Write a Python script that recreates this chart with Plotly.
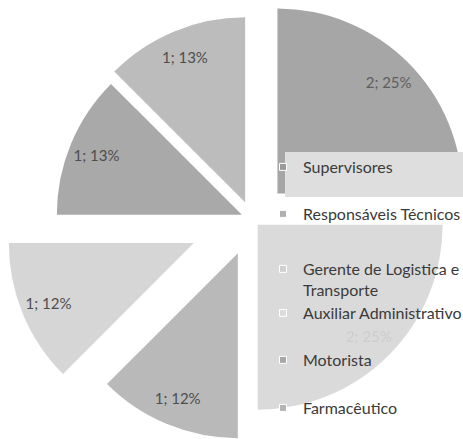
import math
import plotly.graph_objects as go

# ---- data ----
categories = [
    "Supervisores",
    "Responsáveis Técnicos",
    "Gerente de Logistica e Transporte",
    "Auxiliar Administrativo",
    "Motorista",
    "Farmacêutico",
]
counts = [2, 2, 1, 1, 1, 1]
percent_labels = ["25%", "25%", "12%", "12%", "13%", "13%"]

# ---- styling ----
W, H = 463, 439
R = 185                      # pie radius (px)
CX, CY = 252, 219            # pie centre (px from top-left)
explode_px = [36, 8, 37, 63, 11, 18]
fills = ["#a6a6a6", "#dadada", "#b9b9b9", "#d6d6d6", "#a9a9a9", "#bcbcbc"]
swatches = ["#9a9a9a", "#b0b0b0", "#d0d0d0", "#dcdcdc", "#a8a8a8", "#b4b4b4"]
label_colors = ["#5e5e5e", "#cdcdcd", "#4e4e4e", "#4e4e4e", "#4e4e4e", "#4e4e4e"]
legend_names = [
    "Supervisores",
    "Responsáveis Técnicos",
    "Gerente de Logistica e<br>Transporte",
    "Auxiliar Administrativo",
    "Motorista",
    "Farmacêutico",
]
legend_rows = [167, 214, 252, 313, 360, 408]   # row centre (px); row 3 is top-anchored
FONT = "Lato"
CLEAR = "rgba(0,0,0,0)"

fig = go.Figure()
n = len(counts)
total = sum(counts)
cum = 0
for i, v in enumerate(counts):
    # each slice is its own pie, shifted outwards along its bisector
    mid = (cum + v / 2) / total * 2 * math.pi
    cum += v
    cx = CX + explode_px[i] * math.sin(mid)
    cy = CY - explode_px[i] * math.cos(mid)
    dom = dict(x=[(cx - R) / W, (cx + R) / W], y=[1 - (cy + R) / H, 1 - (cy - R) / H])

    fig.add_trace(go.Pie(
        labels=categories, values=counts, sort=False,
        direction="clockwise", rotation=0,
        marker=dict(colors=[fills[j] if j == i else CLEAR for j in range(n)],
                    line=dict(width=0)),
        textinfo="none", domain=dom, showlegend=False, hoverinfo="skip",
    ))
    # data label ring for the same slice
    fig.add_trace(go.Pie(
        labels=categories, values=counts, sort=False,
        direction="clockwise", rotation=0, hole=0.7,
        marker=dict(colors=[CLEAR] * n, line=dict(width=0)),
        text=[f"{counts[j]}; {percent_labels[j]}" if j == i else "" for j in range(n)],
        texttemplate="%{text}", textposition="inside",
        insidetextorientation="horizontal",
        textfont=dict(family=FONT, size=15, color=label_colors[i]),
        domain=dom, showlegend=False, hoverinfo="skip",
    ))

# light band behind the first legend entry
fig.add_shape(type="rect", xref="paper", yref="paper",
              x0=285 / W, x1=1, y0=1 - 197 / H, y1=1 - 152 / H,
              fillcolor="#dedede", line=dict(width=0), layer="above")

# legend entries, one legend box per row
layout_legends = {}
for i, name in enumerate(legend_names):
    key = "legend" if i == 0 else f"legend{i + 1}"
    fig.add_trace(go.Scatter(
        x=[None], y=[None], mode="markers", name=name, legend=key,
        marker=dict(symbol="square", size=7, color=swatches[i],
                    line=dict(color="white", width=1)),
        hoverinfo="skip",
    ))
    two_line = "<br>" in name
    layout_legends[key] = dict(
        x=263 / W, xanchor="left",
        y=1 - legend_rows[i] / H, yanchor="top" if two_line else "middle",
        valign="top" if two_line else "middle",
        bgcolor=CLEAR, borderwidth=0,
        font=dict(family=FONT, size=16, color="#3a3a3a"),
    )

fig.update_layout(
    width=W, height=H,
    margin=dict(l=0, r=0, t=0, b=0, pad=0, autoexpand=False),
    paper_bgcolor="white", plot_bgcolor="white",
    xaxis=dict(visible=False), yaxis=dict(visible=False),
    **layout_legends,
)

fig.write_html("out.html")
